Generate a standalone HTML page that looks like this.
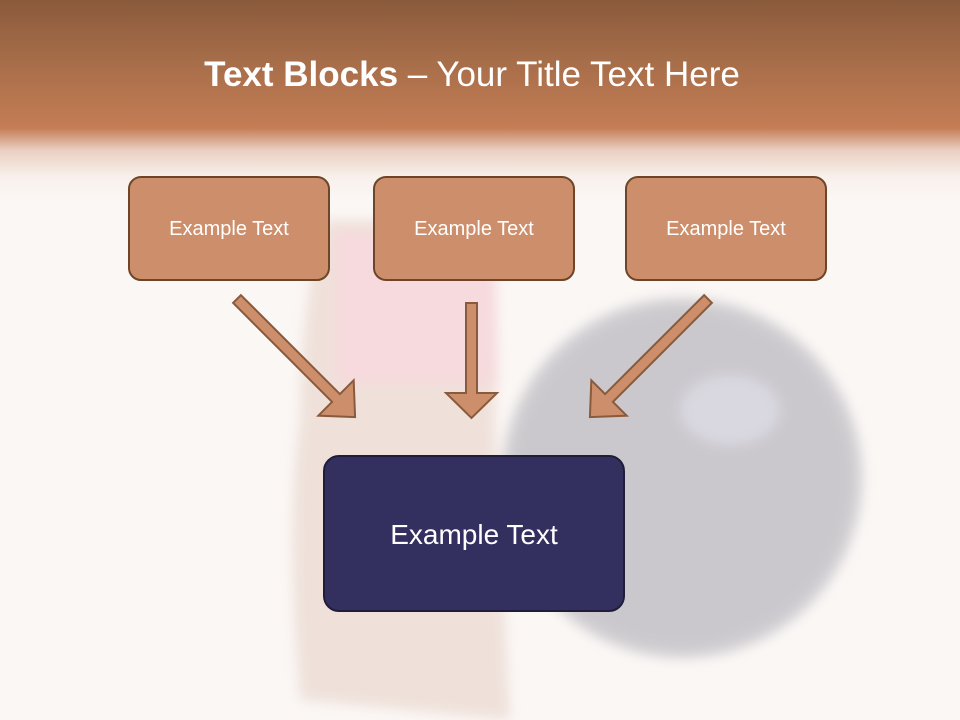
<!DOCTYPE html>
<html><head><meta charset="utf-8"><style>
html,body{margin:0;padding:0}
body{width:960px;height:720px;position:relative;overflow:hidden;background:#fbf7f5;font-family:"Liberation Sans",sans-serif}
.hdr{position:absolute;left:0;top:0;width:960px;height:200px;background:linear-gradient(to bottom,#8a5a3c 0px,#a66d49 60px,#c47d55 128px,#e9cfc0 150px,#f8efea 175px,rgba(251,247,245,0) 200px)}
.title{position:absolute;left:-8px;width:960px;top:55px;text-align:center;color:#fff;font-size:35px;letter-spacing:0px}
.box{position:absolute;background:#cd8f6b;border:2px solid #6e4528;border-radius:13px;box-sizing:border-box;color:#fff;font-size:20px;text-align:center}
.big{position:absolute;left:323px;top:455px;width:302px;height:157px;background:#33305f;border:2px solid #1f1d3a;border-radius:16px;box-sizing:border-box;color:#fff;font-size:28px;text-align:center;line-height:155px}
</style></head><body>
<svg style="position:absolute;left:0;top:0" width="960" height="720">
<defs><filter id="b"><feGaussianBlur stdDeviation="6"/></filter></defs>
<g filter="url(#b)">
<circle cx="682" cy="478" r="180" fill="#d2cfd3"/>
<circle cx="682" cy="478" r="168" fill="#cbc8cd"/>
<ellipse cx="730" cy="410" rx="50" ry="35" fill="#d9d8e0"/>
<path d="M325 220 Q300 300 300 420 Q285 520 300 700 L510 720 L495 420 Q500 300 485 220 Z" fill="#efe1da"/>
<path d="M335 230 L495 230 L498 385 L335 385 Z" fill="#f6dadd"/>
</g>
</svg>
<div class="hdr"></div>
<div class="title"><b>Text Blocks</b> – Your Title Text Here</div>
<div class="box" style="left:128px;top:176px;width:202px;height:105px;padding-top:40px">Example Text</div>
<div class="box" style="left:373px;top:176px;width:202px;height:105px;padding-top:40px">Example Text</div>
<div class="box" style="left:625px;top:176px;width:202px;height:105px;padding-top:40px">Example Text</div>
<svg style="position:absolute;left:0;top:0" width="960" height="720">
<g fill="#cd8f6b" stroke="#8a5a3c" stroke-width="2">
<polygon points="466,303 477,303 477,393 497,393 471.5,418 446,393 466,393"/>
<g transform="translate(237,299) rotate(-45)"><polygon points="-5.5,0 5.5,0 5.5,140 25,140 0,167 -25,140 -5.5,140"/></g>
<g transform="translate(708,299) rotate(45)"><polygon points="-5.5,0 5.5,0 5.5,140 25,140 0,167 -25,140 -5.5,140"/></g>
</g>
</svg>
<div class="big">Example Text</div>
</body></html>
